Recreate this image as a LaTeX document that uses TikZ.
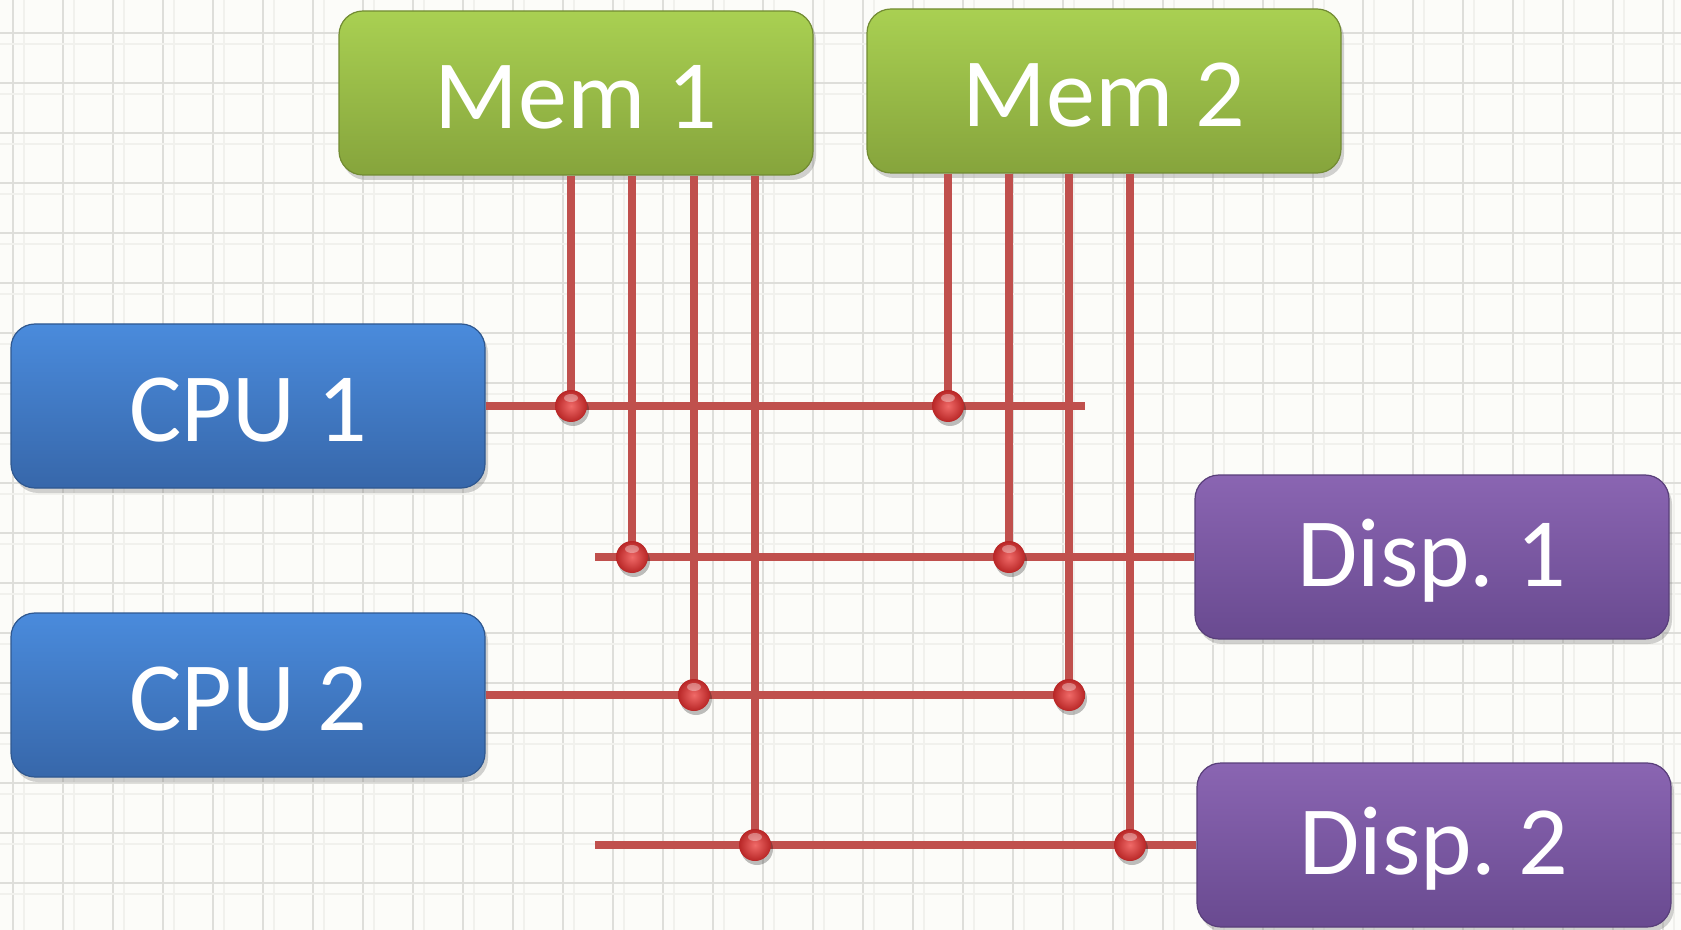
\documentclass[tikz,border=0pt]{standalone}
\usepackage{fontspec}
\setmainfont{Carlito}
\usetikzlibrary{shadows}
\definecolor{bg}{HTML}{FCFCF9}
\definecolor{gridc}{HTML}{DEDEDA}
\definecolor{gridf}{HTML}{F1F1ED}
\definecolor{wire}{HTML}{C0504D}
\definecolor{gtop}{HTML}{A9D052}
\definecolor{gbot}{HTML}{86A43C}
\definecolor{btop}{HTML}{4A8BDC}
\definecolor{bbot}{HTML}{3767AA}
\definecolor{ptop}{HTML}{8A65B2}
\definecolor{pbot}{HTML}{694A90}
\definecolor{dotin}{HTML}{F06A68}
\definecolor{dotout}{HTML}{B82626}
\tikzset{
  unitbox/.style={rounded corners=12pt, minimum width=237pt, minimum height=82pt,
    inner sep=0pt, text=white, font=\fontsize{49}{58}\selectfont,
    drop shadow={shadow xshift=1.5pt, shadow yshift=-2.5pt, opacity=0.35}},
  membox/.style={unitbox, top color=gtop, bottom color=gbot, draw=gbot!85!black, line width=0.6pt},
  cpubox/.style={unitbox, top color=btop, bottom color=bbot, draw=bbot!85!black, line width=0.6pt},
  dispbox/.style={unitbox, top color=ptop, bottom color=pbot, draw=pbot!85!black, line width=0.6pt},
  wireline/.style={draw=wire, line width=4pt},
  wireshadow/.style={draw=black, opacity=0.12, line width=4pt},
  lbl/.style={text=white, font=\fontsize{49}{58}\selectfont, inner sep=0pt},
}
\begin{document}
\begin{tikzpicture}[x=0.5pt,y=-0.5pt]
\useasboundingbox (0,0) rectangle (1681,930);
\fill[bg] (0,0) rectangle (1681,930);
% grid
\foreach \k in {0,...,33} {
  \draw[gridf, line width=0.8pt] ({24+50*\k},0) -- ({24+50*\k},930);
  \draw[gridc, line width=1pt] ({13+50*\k},0) -- ({13+50*\k},930);
}
\foreach \k in {0,...,18} {
  \draw[gridf, line width=0.8pt] (0,{44+50*\k}) -- (1681,{44+50*\k});
  \draw[gridc, line width=1pt] (0,{33+50*\k}) -- (1681,{33+50*\k});
}
% junction coordinates
\coordinate (a1) at (571,406);
\coordinate (b1) at (948,406);
\coordinate (a2) at (632,557);
\coordinate (b2) at (1009,557);
\coordinate (a3) at (694,695);
\coordinate (b3) at (1069,695);
\coordinate (a4) at (755,845);
\coordinate (b4) at (1130,845);
\coordinate (c1end) at (1085,406);
\coordinate (c2end) at (1085,695);
\coordinate (d1start) at (595,557);
\coordinate (d2start) at (595,845);
% nodes
\node[membox] (mem1) at (576,93) {};
\node[membox] (mem2) at (1104,91) {};
\node[cpubox] (cpu1) at (248,406) {};
\node[cpubox] (cpu2) at (248,695) {};
\node[dispbox] (disp1) at (1432,557) {};
\node[dispbox] (disp2) at (1434,845) {};
\node[lbl] (tmem1) at ([yshift=-2pt]mem1.center) {Mem 1};
\node[lbl] (tmem2) at ([yshift=-2pt]mem2.center) {Mem 2};
\node[lbl] (tcpu1) at ([yshift=-2pt]cpu1.center) {CPU 1};
\node[lbl] (tcpu2) at ([yshift=-2pt]cpu2.center) {CPU 2};
\node[lbl] (tdisp1) at ([yshift=-2pt]disp1.center) {Disp.\ 1};
\node[lbl] (tdisp2) at ([yshift=-2pt]disp2.center) {Disp.\ 2};
% wire shadows
\begin{scope}[xshift=1.5pt,yshift=-2pt]
\draw[wireshadow] (cpu1.east) -- (c1end);
\draw[wireshadow] (d1start) -- (disp1.west);
\draw[wireshadow] (cpu2.east) -- (c2end);
\draw[wireshadow] (d2start) -- (disp2.west);
\end{scope}
% wires
\draw[wireline] (cpu1.east) -- (c1end);
\draw[wireline] (d1start) -- (disp1.west);
\draw[wireline] (cpu2.east) -- (c2end);
\draw[wireline] (d2start) -- (disp2.west);
\draw[wireline] (mem1.south -| a1) -- (a1);
\draw[wireline] (mem1.south -| a2) -- (a2);
\draw[wireline] (mem1.south -| a3) -- (a3);
\draw[wireline] (mem1.south -| a4) -- (a4);
\draw[wireline] (mem2.south -| b1) -- (b1);
\draw[wireline] (mem2.south -| b2) -- (b2);
\draw[wireline] (mem2.south -| b3) -- (b3);
\draw[wireline] (mem2.south -| b4) -- (b4);
% junction dots
\foreach \p in {a1,b1,a2,b2,a3,b3,a4,b4} {
  \fill[black, opacity=0.25] ([xshift=1pt,yshift=-2pt]\p) circle (8pt);
  \shade[inner color=dotin, outer color=dotout] (\p) circle (8pt);
  \fill[white, opacity=0.35] ([yshift=4pt]\p) ellipse (3.5pt and 2pt);
}
\end{tikzpicture}
\end{document}
